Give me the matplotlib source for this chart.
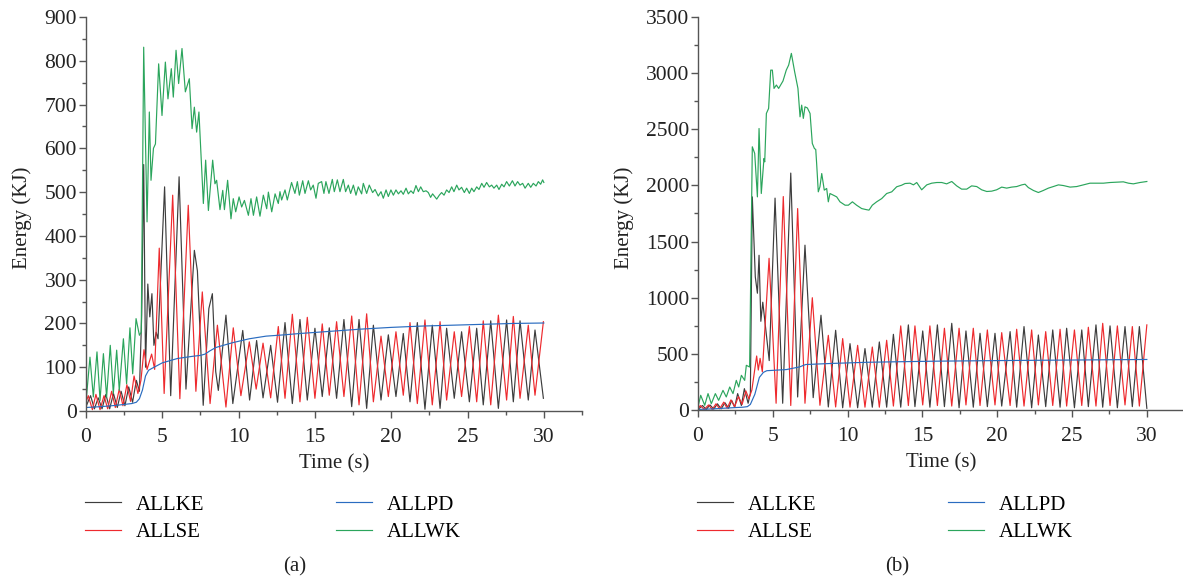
import matplotlib
matplotlib.use("Agg")
import matplotlib.pyplot as plt
from matplotlib.ticker import MultipleLocator

plt.rcParams['font.family'] = ['Liberation Serif', 'DejaVu Serif']
plt.rcParams['font.size'] = 15

# ---------------- panel (a) ----------------
ke_a_t = [0.0, 0.3, 0.55, 0.8, 1.05, 1.3, 1.55, 1.8, 2.05, 2.3, 2.55, 2.8, 3.05, 3.3, 3.5, 3.65,
          3.78, 3.9, 4.05, 4.18, 4.32, 4.45, 4.6, 4.72, 5.15, 5.55, 6.1, 6.55, 7.1, 7.3, 7.68, 8.05,
          8.28, 8.5, 8.67, 9.17, 9.62, 10.27, 10.72, 11.18, 11.6, 12.1, 12.55,
          13.04, 13.52, 14.02, 14.5, 15.0, 15.48, 15.94, 16.42, 16.9, 17.41, 17.89, 18.39, 18.83,
          19.33, 19.81, 20.31, 20.79, 21.23, 21.71, 22.21, 22.69, 23.2, 23.63, 24.13, 24.61, 25.12,
          25.6, 26.03, 26.52, 27.02, 27.56, 28.0, 28.44, 28.98, 29.42, 29.97]
ke_a = [10, 35, 5, 30, 5, 38, 5, 40, 8, 45, 12, 55, 20, 70, 45, 220,
        563, 100, 290, 215, 268, 150, 180, 165, 512, 35, 535, 50, 367, 320, 13, 234,
        268, 90, 47, 219, 17, 184, 25, 161, 30, 150, 20,
        202, 17, 209, 25, 189, 33, 190, 29, 209, 10, 209, 6, 196,
        25, 174, 33, 177, 21, 202, 4, 196, 6, 189, 29, 181, 21,
        189, 14, 206, 6, 208, 21, 206, 25, 185, 29]

se_a_t = [0.0, 0.15, 0.42, 0.65, 0.92, 1.18, 1.42, 1.68, 1.92, 2.18, 2.42, 2.68, 2.92, 3.15, 3.4,
          3.6, 3.8, 4.0, 4.3, 4.5, 4.8, 5.12, 5.68, 6.15, 6.7, 7.2, 7.62, 8.13, 8.61, 9.17, 9.65,
          10.15, 10.7, 11.15, 11.6, 12.1, 12.6,
          13.04, 13.52, 14.02, 14.5, 15.0, 15.48, 15.94, 16.42, 16.9, 17.41, 17.89, 18.39, 18.83,
          19.33, 19.81, 20.31, 20.79, 21.23, 21.71, 22.21, 22.69, 23.2, 23.63, 24.13, 24.61, 25.12,
          25.6, 26.03, 26.52, 27.02, 27.56, 28.0, 28.44, 28.98, 29.42, 29.97]
se_a = [20, 35, 3, 38, 3, 35, 5, 45, 8, 50, 12, 60, 22, 80, 40,
        70, 140, 95, 130, 95, 372, 40, 493, 28, 470, 45, 272, 17, 196, 9, 190,
        35, 158, 50, 155, 30, 193,
        29, 221, 21, 214, 29, 199, 36, 204, 33, 217, 14, 222, 21,
        171, 33, 181, 36, 202, 17, 208, 14, 204, 25, 181, 33, 193,
        21, 206, 14, 219, 25, 216, 29, 196, 36, 204]

pd_a_t = [0, 1, 2, 3, 3.3, 3.5, 3.7, 3.9, 4.1, 4.3, 5.0, 6.0, 7.0, 7.5, 7.8, 8.1, 8.5, 9.6,
          10.7, 11.8, 13, 14, 16, 18, 20, 22, 24, 26, 28, 30]
pd_a = [8, 10, 13, 17, 20, 28, 48, 80, 93, 97, 110, 120, 125, 127, 130, 137, 145, 156,
        165, 171, 174, 177, 182, 187, 191, 194, 196, 198, 200, 201]

wk_a_t = [0.0, 0.26, 0.48, 0.72, 0.92, 1.14, 1.35, 1.59, 1.79, 2.01, 2.18, 2.45, 2.66, 2.88, 3.06,
          3.28, 3.5, 3.62, 3.78, 4.0, 4.15, 4.26, 4.42, 4.55, 4.76, 4.98, 5.2, 5.37, 5.59, 5.72,
          5.9, 6.07, 6.29, 6.51, 6.77, 6.95, 7.1, 7.25, 7.4, 7.69, 7.84, 8.02, 8.3, 8.45, 8.56,
          8.78, 8.96, 9.07, 9.28, 9.5, 9.65, 9.81, 10.03, 10.2, 10.38, 10.64, 10.81, 10.97, 11.18,
          11.4, 11.62, 11.84, 11.95, 12.17, 12.39, 12.6,
          12.71, 12.82, 13.04, 13.19, 13.47, 13.69, 13.85, 13.98, 14.2, 14.35, 14.57, 14.72, 14.89,
          15.07, 15.22, 15.44, 15.59, 15.72, 15.92, 16.14, 16.27, 16.47, 16.64, 16.86, 17.01, 17.19,
          17.34, 17.52, 17.69, 17.84, 18.06, 18.17, 18.39, 18.56, 18.78, 18.94, 19.15, 19.33, 19.48,
          19.66, 19.81, 19.98, 20.14, 20.31, 20.47, 20.64, 20.79, 20.97, 21.12, 21.29, 21.45, 21.62,
          21.78, 21.93, 22.1, 22.28, 22.43, 22.58, 22.71, 22.98, 23.15, 23.3, 23.46, 23.63, 23.79,
          23.96, 24.11, 24.29, 24.44, 24.61, 24.79, 24.94, 25.12, 25.27, 25.42, 25.6, 25.75, 25.93,
          26.08, 26.25, 26.43, 26.58, 26.73, 26.91, 27.06, 27.24, 27.39, 27.56, 27.74, 27.94, 28.11,
          28.28, 28.44, 28.61, 28.77, 28.98, 29.14, 29.31, 29.49, 29.64, 29.79, 29.92, 30.0]
wk_a = [20, 123, 32, 135, 24, 131, 32, 150, 40, 139, 47, 165, 62, 190, 85,
        211, 173, 180, 831, 432, 683, 527, 600, 610, 793, 675, 797, 713, 782, 717,
        824, 748, 828, 729, 759, 645, 694, 637, 683, 474, 573, 458, 573, 519, 527,
        460, 504, 460, 527, 439, 485, 455, 489, 466, 481, 447, 485, 447, 489,
        445, 493, 462, 500, 455, 496, 474,
        501, 482, 505, 482, 522, 497, 524, 493, 526, 497, 526, 505, 516,
        486, 520, 524, 497, 524, 497, 529, 501, 528, 501, 529, 501, 516,
        497, 516, 493, 512, 496, 520, 497, 516, 499, 506, 491, 501, 486,
        505, 490, 505, 493, 505, 496, 503, 495, 509, 496, 503, 497, 515,
        501, 512, 501, 503, 499, 488, 496, 484, 493, 499, 493, 505, 499,
        512, 501, 516, 505, 511, 499, 509, 497, 509, 501, 512, 506, 520,
        511, 522, 512, 516, 509, 516, 506, 518, 512, 524, 514, 526, 514,
        524, 516, 520, 509, 520, 511, 520, 514, 524, 518, 528, 522]

# ---------------- panel (b) ----------------
ke_b_t = [0.0, 0.3, 0.55, 0.8, 1.05, 1.3, 1.55, 1.8, 2.05, 2.25, 2.45, 2.65, 2.9, 3.1, 3.35, 3.5,
          3.63, 3.83, 3.97, 4.08, 4.2, 4.33, 4.76, 5.15, 5.66, 6.2, 6.66, 7.15, 7.7, 8.22, 8.71,
          9.2, 9.67, 10.16, 10.67, 11.16, 11.65, 12.12, 12.61,
          13.06, 13.55, 14.06, 14.5, 15.02, 15.5, 16.0, 16.47, 16.96, 17.45, 17.91, 18.4, 18.85,
          19.34, 19.85, 20.3, 20.86, 21.3, 21.79, 22.3, 22.75, 23.24, 23.71, 24.2, 24.64, 25.16,
          25.65, 26.09, 26.6, 27.05, 27.54, 28.03, 28.54, 29.03, 29.5, 30.0]
ke_b = [5, 40, 5, 45, 8, 55, 10, 65, 15, 86, 25, 146, 40, 190, 60, 150,
        1898, 1185, 1040, 1378, 790, 960, 440, 1887, 60, 2110, 116, 1468, 110, 844, 27,
        710, 20, 591, 20, 547, 25, 606, 25,
        674, 25, 758, 30, 704, 25, 758, 30, 772, 20, 704, 25, 683,
        30, 683, 35, 698, 25, 743, 20, 668, 30, 713, 25, 728, 20,
        713, 30, 758, 25, 749, 20, 743, 30, 743, 15]

se_b_t = [0.0, 0.15, 0.42, 0.7, 0.95, 1.2, 1.45, 1.72, 1.95, 2.2, 2.45, 2.7, 2.95, 3.2, 3.4,
          3.6, 3.92, 4.03, 4.15, 4.3, 4.75, 5.22, 5.7, 6.2, 6.66, 7.15, 7.64, 8.15, 8.71, 9.2,
          9.67, 10.16, 10.67, 11.16, 11.65, 12.12, 12.61,
          13.06, 13.55, 14.06, 14.5, 15.02, 15.5, 16.0, 16.47, 16.96, 17.45, 17.91, 18.4, 18.85,
          19.34, 19.85, 20.3, 20.86, 21.3, 21.79, 22.3, 22.75, 23.24, 23.71, 24.2, 24.64, 25.16,
          25.65, 26.09, 26.6, 27.05, 27.54, 28.03, 28.54, 29.03, 29.5, 30.0]
se_b = [10, 40, 5, 45, 5, 55, 10, 70, 15, 90, 30, 120, 50, 170, 100,
        178, 481, 356, 460, 340, 1351, 60, 1901, 40, 1794, 60, 1000, 42, 665, 27,
        636, 25, 576, 25, 561, 25, 621,
        35, 749, 40, 749, 45, 749, 40, 728, 35, 728, 45, 728, 40,
        713, 45, 689, 40, 719, 35, 713, 45, 698, 40, 719, 35, 713,
        40, 737, 35, 772, 40, 749, 45, 743, 35, 758]

pd_b_t = [0, 1, 2, 3, 3.3, 3.5, 3.8, 4.1, 4.37, 4.6, 5.9, 6.8, 7.0, 7.2, 9.0, 11.3, 13.5, 16,
          20, 25, 30]
pd_b = [5, 10, 18, 25, 30, 50, 140, 290, 335, 350, 360, 384, 395, 405, 415, 425, 430, 435,
        440, 445, 450]

wk_b_t = [0.0, 0.18, 0.45, 0.67, 0.89, 1.16, 1.38, 1.67, 1.89, 2.12, 2.34, 2.56, 2.72, 2.9, 3.12,
          3.23, 3.45, 3.63, 3.79, 3.97, 4.08, 4.23, 4.41, 4.46, 4.57, 4.72, 4.86, 4.97, 5.08, 5.24,
          5.39, 5.68, 5.9, 6.06, 6.24, 6.46, 6.68, 6.82, 6.93, 7.04, 7.15, 7.31, 7.49, 7.64, 7.78,
          7.87, 7.93, 8.04, 8.15, 8.27, 8.44, 8.6, 8.71, 8.82, 9.05, 9.27, 9.49, 9.83, 10.05, 10.32,
          10.6, 10.94, 11.23, 11.43, 11.65, 11.94, 12.28, 12.61, 12.95, 13.28, 13.61, 13.84,
          14.17, 14.4, 14.62, 14.95, 15.29, 15.62, 15.96, 16.29, 16.62, 16.96, 17.29, 17.62, 17.96,
          18.29, 18.63, 18.96, 19.3, 19.63, 19.96, 20.3, 20.63, 20.96, 21.3, 21.64, 21.86, 22.08,
          22.42, 22.75, 23.08, 23.42, 23.75, 24.09, 24.42, 24.87, 25.31, 25.76, 26.2, 26.65, 27.1,
          27.54, 27.99, 28.43, 28.77, 29.1, 29.54, 30.0]
wk_b = [27, 131, 42, 146, 56, 146, 86, 175, 116, 205, 146, 264, 205, 309, 264,
        398, 383, 2344, 2285, 1898, 2507, 1928, 2240, 2210, 2641, 2686, 3027, 3027, 2864, 2894,
        2864, 2930, 3027, 3072, 3176, 3012, 2864, 2611, 2715, 2597, 2700, 2690, 2641, 2374, 2329,
        2320, 2195, 1943, 1988, 2106, 1958, 1973, 1854, 1928, 1913, 1898, 1854, 1824, 1824, 1854,
        1824, 1794, 1785, 1780, 1824, 1854, 1883, 1928, 1943, 1988, 2002, 2017,
        2020, 2005, 2026, 1961, 2005, 2020, 2026, 2026, 2014, 2035, 1996, 1967, 1967,
        1996, 1990, 1961, 1946, 1949, 1961, 1985, 1976, 1985, 1990, 2005, 2011, 1981,
        1955, 1937, 1955, 1976, 1990, 2005, 1999, 1985, 1990, 2005, 2020, 2020, 2020,
        2026, 2029, 2032, 2020, 2014, 2026, 2035]

labels = ['ALLKE', 'ALLSE', 'ALLPD', 'ALLWK']
colors = ['#3d3d3d', '#ee2a2e', '#2a6cc0', '#2ba55c']

W, H = 1183, 584
fig = plt.figure(figsize=(W / 100, H / 100), dpi=100)


def make_panel(rect, series, ymax, ymajor, yminor, xmax, tag, leg_x, tag_x, ylab_x):
    ax = fig.add_axes(rect)
    lines = []
    for (t, v), c, lab in zip(series, colors, labels):
        ln, = ax.plot(t, v, color=c, lw=0.85, label=lab)
        lines.append(ln)
    ax.set_xlim(0, xmax)
    ax.set_ylim(0, ymax)
    ax.xaxis.set_major_locator(MultipleLocator(5))
    ax.xaxis.set_minor_locator(MultipleLocator(2.5))
    ax.yaxis.set_major_locator(MultipleLocator(ymajor))
    ax.yaxis.set_minor_locator(MultipleLocator(yminor))
    for s in ['top', 'right']:
        ax.spines[s].set_visible(False)
    for s in ['left', 'bottom']:
        ax.spines[s].set_color('#555555')
        ax.spines[s].set_linewidth(1.0)
    ax.tick_params(which='major', direction='out', length=5, width=1.0, color='#555555',
                   labelsize=15.5, labelcolor='#222222')
    ax.tick_params(which='minor', direction='out', length=3, width=1.0, color='#555555')
    ax.tick_params(axis='y', pad=1.5)
    ax.tick_params(axis='x', pad=7)
    ax.set_xlabel('Time (s)', fontsize=15, color='#222222')
    ax.set_ylabel('Energy (KJ)', fontsize=15, color='#222222')
    ax.xaxis.set_label_coords(0.5, -0.11)
    ax.yaxis.set_label_coords(ylab_x, 0.49)
    ax.legend(lines, labels, ncol=2, loc='upper left', frameon=False,
              bbox_to_anchor=(leg_x / W, 1 - 495 / H), bbox_transform=fig.transFigure,
              borderpad=0, borderaxespad=0, handlelength=1.75, handletextpad=0.7,
              columnspacing=6.3, labelspacing=0.38, fontsize=15)
    fig.text(tag_x / W, 1 - 567 / H, tag, ha='center', va='center', fontsize=15,
             color='#222222')
    return ax


ax_a = make_panel([86 / W, 1 - 411 / H, (582 - 86) / W, 394 / H],
                  [(ke_a_t, ke_a), (se_a_t, se_a), (pd_a_t, pd_a), (wk_a_t, wk_a)],
                  900, 100, 50, 32.5, '(a)', 85, 295, -0.108)
ax_b = make_panel([698 / W, 1 - 410 / H, (1183.5 - 698) / W, 393 / H],
                  [(ke_b_t, ke_b), (se_b_t, se_b), (pd_b_t, pd_b), (wk_b_t, wk_b)],
                  3500, 500, 250, 32.45, '(b)', 697, 897, -0.132)

fig.savefig('out.png', dpi=100)
